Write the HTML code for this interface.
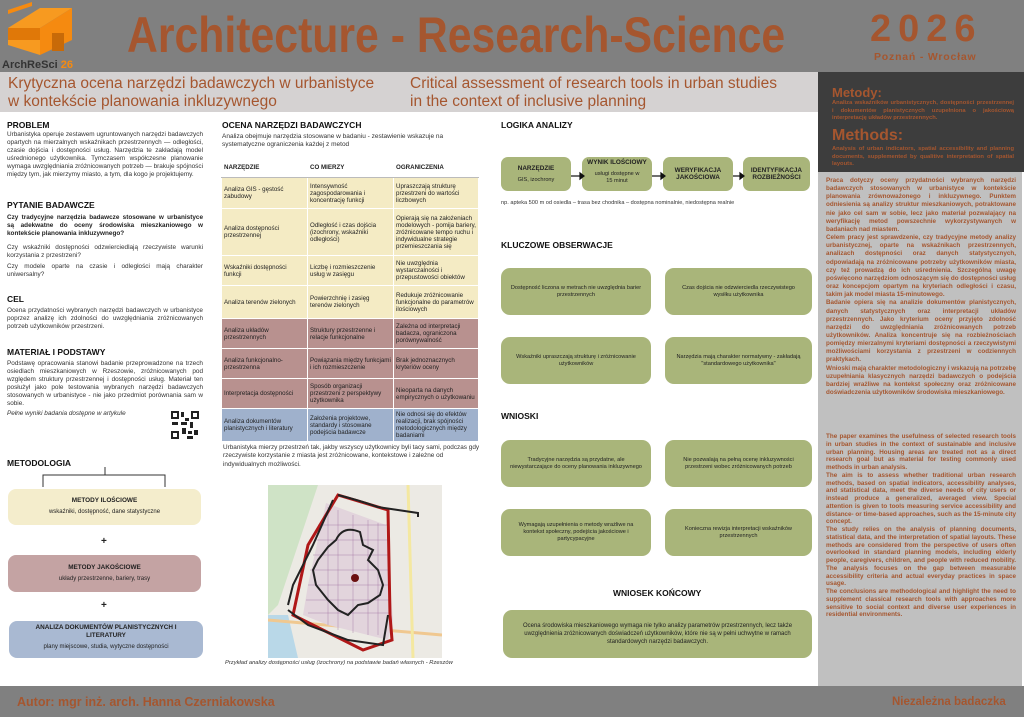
<!DOCTYPE html>
<html><head><meta charset="utf-8">
<style>
*{margin:0;padding:0;box-sizing:border-box}
body{width:1024px;height:717px;position:relative;background:#fff;font-family:"Liberation Sans",sans-serif;color:#222;overflow:hidden}
.a{position:absolute}
.rust{color:#a5562f}
h3{position:absolute;font-size:8.5px;font-weight:bold;color:#111}
.p{position:absolute;font-size:6.4px;line-height:8px;text-align:justify;color:#333}
.gb{position:absolute;background:#a9b57a;border-radius:9px;display:flex;align-items:center;justify-content:center;text-align:center;font-size:5.6px;line-height:7px;color:#222;padding:0 8px}
table{border-collapse:collapse;font-size:6.2px;line-height:7px;color:#222}
td{border:1px solid #fff;padding:0 2px;vertical-align:middle}
.y td{background:#f4ebc4}.m td{background:#b8918f}.b td{background:#9fb1cc}
.rp{position:absolute;font-size:6.3px;line-height:8.15px;font-weight:bold;text-align:justify;color:#a5562f}
</style></head><body>
<div class="a" style="left:0;top:0;width:1024px;height:72px;background:#808080"></div>
<svg class="a" style="left:0;top:0" width="80" height="65" viewBox="0 0 80 65">
<polygon points="8,10 32,2 32,6 8,14" fill="#f58a10"/>
<polygon points="8,28 40,8 72,8 40,28" fill="#f79a20"/>
<polygon points="8,28 40,28 40,40 8,40" fill="#e07808"/>
<polygon points="40,28 72,8 72,40 40,55" fill="#f58a10"/>
<polygon points="8,40 40,40 40,55 8,45" fill="#f79a20"/>
<rect x="52" y="33" width="12" height="18" fill="#c86a08"/>
</svg>
<div class="a" style="left:2px;top:59px;font-size:11px;font-weight:bold;color:#333">ArchReSci <span style="color:#f58a10">26</span></div>
<div class="a rust" style="left:127px;top:6px;font-size:50px;font-weight:bold;transform:scaleX(0.855);transform-origin:0 0;white-space:nowrap">Architecture - Research-Science</div>
<div class="a rust" style="left:870px;top:8px;font-size:38px;font-weight:bold;letter-spacing:7px">2026</div>
<div class="a rust" style="left:874px;top:51px;font-size:10.5px;font-weight:bold;letter-spacing:0.8px">Poznań - Wrocław</div>
<div class="a" style="left:0;top:72px;width:835px;height:40px;background:#d5d2d2"></div>
<div class="a rust" style="left:8px;top:75px;font-size:15.5px;line-height:18px">Krytyczna ocena narzędzi badawczych w urbanistyce<br>w kontekście planowania inkluzywnego</div>
<div class="a rust" style="left:410px;top:75px;font-size:15.5px;line-height:18px">Critical assessment of research tools in urban studies<br>in the context of inclusive planning</div>
<div class="a" style="left:818px;top:72px;width:206px;height:100px;background:#3d3d3d"></div>
<div class="a" style="left:818px;top:172px;width:204px;height:516px;background:#c0c0c0"></div>
<div class="a rust" style="left:832px;top:85px;font-size:13px;font-weight:bold">Metody:</div>
<div class="rp" style="left:832px;top:100px;width:182px;font-size:5.8px;line-height:7.5px">Analiza wskaźników urbanistycznych, dostępności przestrzennej i dokumentów planistycznych uzupełniona o jakościową interpretację układów przestrzennych.</div>
<div class="a rust" style="left:832px;top:127px;font-size:16px;font-weight:bold">Methods:</div>
<div class="rp" style="left:832px;top:146px;width:182px;font-size:5.8px;line-height:7.5px">Analysis of urban indicators, spatial accessibility and planning documents, supplemented by qualitive interpretation of spatial layouts.</div>
<div class="rp" style="left:826px;top:177px;width:190px">Praca dotyczy oceny przydatności wybranych narzędzi badawczych stosowanych w urbanistyce w kontekście planowania zrównoważonego i inkluzywnego. Punktem odniesienia są analizy struktur mieszkaniowych, potraktowane nie jako cel sam w sobie, lecz jako materiał pozwalający na weryfikację metod powszechnie wykorzystywanych w badaniach nad miastem.<br>Celem pracy jest sprawdzenie, czy tradycyjne metody analizy urbanistycznej, oparte na wskaźnikach przestrzennych, analizach dostępności oraz danych statystycznych, odpowiadają na zróżnicowane potrzeby użytkowników miasta, czy też prowadzą do ich uśrednienia. Szczególną uwagę poświęcono narzędziom odnoszącym się do dostępności usług oraz koncepcjom opartym na kryteriach odległości i czasu, takim jak model miasta 15-minutowego.<br>Badanie opiera się na analizie dokumentów planistycznych, danych statystycznych oraz interpretacji układów przestrzennych. Jako kryterium oceny przyjęto zdolność narzędzi do uwzględniania zróżnicowanych potrzeb użytkowników. Analiza koncentruje się na rozbieżnościach pomiędzy mierzalnymi kryteriami dostępności a rzeczywistymi możliwościami korzystania z przestrzeni w codziennych praktykach.<br>Wnioski mają charakter metodologiczny i wskazują na potrzebę uzupełniania klasycznych narzędzi badawczych o podejścia bardziej wrażliwe na kontekst społeczny oraz zróżnicowane doświadczenia użytkowników środowiska mieszkaniowego.</div>
<div class="rp" style="left:826px;top:433px;width:190px;line-height:7.75px">The paper examines the usefulness of selected research tools in urban studies in the context of sustainable and inclusive urban planning. Housing areas are treated not as a direct research goal but as material for testing commonly used methods in urban analysis.<br>The aim is to assess whether traditional urban research methods, based on spatial indicators, accessibility analyses, and statistical data, meet the diverse needs of city users or instead produce a generalized, averaged view. Special attention is given to tools measuring service accessibility and distance- or time-based approaches, such as the 15-minute city concept.<br>The study relies on the analysis of planning documents, statistical data, and the interpretation of spatial layouts. These methods are considered from the perspective of users often overlooked in standard planning models, including elderly people, caregivers, children, and people with reduced mobility. The analysis focuses on the gap between measurable accessibility criteria and actual everyday practices in space usage.<br>The conclusions are methodological and highlight the need to supplement classical research tools with approaches more sensitive to social context and diverse user experiences in residential environments.</div>

<!-- left column -->
<h3 style="left:7px;top:120px">PROBLEM</h3>
<div class="p" style="left:7px;top:131px;width:196px">Urbanistyka operuje zestawem ugruntowanych narzędzi badawczych opartych na mierzalnych wskaźnikach przestrzennych — odległości, czasie dojścia i dostępności usług. Narzędzia te zakładają model uśrednionego użytkownika. Tymczasem współczesne planowanie wymaga uwzględniania zróżnicowanych potrzeb — brakuje spójności między tym, jak mierzymy miasto, a tym, dla kogo je projektujemy.</div>
<h3 style="left:7px;top:200px">PYTANIE BADAWCZE</h3>
<div class="p" style="left:7px;top:214px;width:196px;font-weight:bold;color:#222">Czy tradycyjne narzędzia badawcze stosowane w urbanistyce są adekwatne do oceny środowiska mieszkaniowego w kontekście planowania inkluzywnego?</div>
<div class="p" style="left:7px;top:244px;width:196px">Czy wskaźniki dostępności odzwierciedlają rzeczywiste warunki korzystania z przestrzeni?</div>
<div class="p" style="left:7px;top:263px;width:196px">Czy modele oparte na czasie i odległości mają charakter uniwersalny?</div>
<h3 style="left:7px;top:294px">CEL</h3>
<div class="p" style="left:7px;top:307px;width:196px">Ocena przydatności wybranych narzędzi badawczych w urbanistyce poprzez analizę ich zdolności do uwzględniania zróżnicowanych potrzeb użytkowników przestrzeni.</div>
<h3 style="left:7px;top:347px">MATERIAŁ I PODSTAWY</h3>
<div class="p" style="left:7px;top:360px;width:196px">Podstawę opracowania stanowi badanie przeprowadzone na trzech osiedlach mieszkaniowych w Rzeszowie, zróżnicowanych pod względem struktury przestrzennej i dostępności usług. Materiał ten posłużył jako pole testowania wybranych narzędzi badawczych stosowanych w urbanistyce - nie jako przedmiot porównania sam w sobie.</div>
<div class="p" style="left:7px;top:410px;font-style:italic">Pełne wyniki badania dostępne w artykule</div>
<svg class="a" style="left:170px;top:410px" width="30" height="30"><rect width="30" height="30" fill="#fff"/><g fill="#222"><rect x="1" y="1" width="8" height="8"/><rect x="21" y="1" width="8" height="8"/><rect x="1" y="21" width="8" height="8"/><rect x="3" y="3" width="4" height="4" fill="#fff"/><rect x="23" y="3" width="4" height="4" fill="#fff"/><rect x="3" y="23" width="4" height="4" fill="#fff"/><rect x="11" y="2" width="3" height="5"/><rect x="15" y="8" width="4" height="3"/><rect x="11" y="12" width="6" height="3"/><rect x="20" y="12" width="3" height="6"/><rect x="2" y="12" width="6" height="3"/><rect x="12" y="18" width="4" height="6"/><rect x="18" y="21" width="4" height="3"/><rect x="24" y="20" width="4" height="5"/><rect x="17" y="26" width="6" height="3"/></g></svg>
<h3 style="left:7px;top:458px">METODOLOGIA</h3>
<svg class="a" style="left:40px;top:466px" width="140" height="22"><path d="M65 1 V9 M3 21 V9 H125 V21" stroke="#333" fill="none" stroke-width="1"/></svg>
<div class="a" style="left:8px;top:489px;width:193px;height:36px;background:#f4edcc;border-radius:8px;text-align:center;font-size:6px"><div style="font-weight:bold;margin-top:8px;font-size:6.4px">METODY ILOŚCIOWE</div><div style="margin-top:5px">wskaźniki, dostępność, dane statystyczne</div></div>
<div class="a" style="left:101px;top:536px;font-size:10px;font-weight:bold">+</div>
<div class="a" style="left:8px;top:555px;width:193px;height:37px;background:#c4a3a3;border-radius:8px;text-align:center;font-size:6px"><div style="font-weight:bold;margin-top:9px;font-size:6.4px">METODY JAKOŚCIOWE</div><div style="margin-top:5px">układy przestrzenne, bariery, trasy</div></div>
<div class="a" style="left:101px;top:600px;font-size:10px;font-weight:bold">+</div>
<div class="a" style="left:9px;top:621px;width:194px;height:37px;background:#a9b9d2;border-radius:8px;text-align:center;font-size:6px"><div style="font-weight:bold;margin-top:3px;font-size:6.4px;line-height:8px">ANALIZA DOKUMENTÓW PLANISTYCZNYCH I<br>LITERATURY</div><div style="margin-top:4px">plany miejscowe, studia, wytyczne dostępności</div></div>

<!-- middle -->
<h3 style="left:222px;top:120px">OCENA NARZĘDZI BADAWCZYCH</h3>
<div class="p" style="left:222px;top:133px;width:262px;font-size:6.5px;text-align:left">Analiza obejmuje narzędzia stosowane w badaniu - zestawienie wskazuje na systematyczne ograniczenia każdej z metod</div>
<table class="a" style="left:221px;top:157px;width:258px">
<tr style="height:20px"><td style="width:86px;font-weight:bold;border-bottom:1px solid #bbb">NARZĘDZIE</td><td style="width:86px;font-weight:bold;border-bottom:1px solid #bbb">CO MIERZY</td><td style="font-weight:bold;border-bottom:1px solid #bbb">OGRANICZENIA</td></tr>
<tr class="y" style="height:31px"><td>Analiza GIS - gęstość zabudowy</td><td>Intensywność zagospodarowania i koncentrację funkcji</td><td>Upraszczają strukturę przestrzeni do wartości liczbowych</td></tr>
<tr class="y" style="height:47px"><td>Analiza dostępności przestrzennej</td><td>Odległość i czas dojścia (izochrony, wskaźniki odległości)</td><td>Opierają się na założeniach modelowych - pomija bariery, zróżnicowane tempo ruchu i indywidualne strategie przemieszczania się</td></tr>
<tr class="y" style="height:30px"><td>Wskaźniki dostępności funkcji</td><td>Liczbę i rozmieszczenie usług w zasięgu</td><td>Nie uwzględnia wystarczalności i przepustowości obiektów</td></tr>
<tr class="y" style="height:33px"><td>Analiza terenów zielonych</td><td>Powierzchnię i zasięg terenów zielonych</td><td>Redukuje zróżnicowanie funkcjonalne do parametrów ilościowych</td></tr>
<tr class="m" style="height:30px"><td>Analiza układów przestrzennych</td><td>Struktury przestrzenne i relacje funkcjonalne</td><td>Zależna od interpretacji badacza, ograniczona porównywalność</td></tr>
<tr class="m" style="height:30px"><td>Analiza funkcjonalno-przestrzenna</td><td>Powiązania między funkcjami i ich rozmieszczenie</td><td>Brak jednoznacznych kryteriów oceny</td></tr>
<tr class="m" style="height:30px"><td>Interpretacja dostępności</td><td>Sposób organizacji przestrzeni z perspektywy użytkownika</td><td>Nieoparta na danych empirycznych o użytkowaniu</td></tr>
<tr class="b" style="height:33px"><td>Analiza dokumentów planistycznych i literatury</td><td>Założenia projektowe, standardy i stosowane podejścia badawcze</td><td>Nie odnosi się do efektów realizacji, brak spójności metodologicznych między badaniami</td></tr>
</table>
<div class="p" style="left:223px;top:444px;width:262px;font-size:6.4px;line-height:8.3px;text-align:left">Urbanistyka mierzy przestrzeń tak, jakby wszyscy użytkownicy byli tacy sami, podczas gdy rzeczywiste korzystanie z miasta jest zróżnicowane, kontekstowe i zależne od indywidualnych możliwości.</div>
<svg class="a" style="left:268px;top:485px" width="174" height="173" viewBox="0 0 174 173">
<rect width="174" height="173" fill="#eceae4"/>
<path d="M0 0 L50 0 L30 60 L10 120 L0 130Z" fill="#cfe3c6"/>
<path d="M0 130 L20 130 L30 173 L0 173Z" fill="#b9d8e8"/>
<path d="M0 135 L174 150" stroke="#f0c890" stroke-width="3"/>
<path d="M140 0 L145 173" stroke="#f4e8a0" stroke-width="3"/>
<path d="M58 18 L118 40 L120 75 L125 135 L120 155 L60 140 L35 130 L40 100 Z" fill="#e2d4dc"/>
<g stroke="#a06ea0" stroke-width="0.5" fill="none" opacity="0.8">
<path d="M50 40 H120 M48 55 H120 M45 70 H122 M42 85 H122 M40 100 H122 M38 115 H123 M40 128 H123 M70 25 V145 M85 30 V148 M100 35 V150 M60 22 V140 M110 38 V150"/></g>
<path d="M70 10 L120 25 L122 130 L124 155 L95 165 L25 130 L40 60 Z" fill="none" stroke="#b01818" stroke-width="3"/>
<path d="M70 10 Q90 15 110 22 L150 28 L150 32 M65 15 L45 60 L25 100 L20 120 M20 125 L40 140 L80 155 L115 160 L120 130 M92 47 Q75 40 68 55 L60 62 L50 75 L45 85 L48 100 L60 115 L70 125 L80 130 L90 120 L100 118 L112 110 L115 100 L110 85 L100 75 L105 65 L95 60 Z" fill="none" stroke="#222" stroke-width="2"/>
<circle cx="87" cy="93" r="4" fill="#6b1010"/>
</svg>
<div class="a" style="left:225px;top:660px;font-size:5.8px;font-style:italic;color:#333">Przykład analizy dostępności usług (izochrony) na podstawie badań własnych - Rzeszów</div>

<!-- right middle -->
<h3 style="left:501px;top:120px">LOGIKA ANALIZY</h3>
<div class="gb" style="left:501px;top:157px;width:70px;height:34px;flex-direction:column;border-radius:7px"><b style="font-size:6.4px">NARZĘDZIE</b><span style="margin-top:5px">GIS, izochrony</span></div>
<div class="gb" style="left:582px;top:157px;width:70px;height:34px;flex-direction:column;justify-content:flex-start;border-radius:7px;padding:0"><b style="font-size:6.4px;margin-top:2px">WYNIK ILOŚCIOWY</b><span style="margin-top:5px">usługi dostępne w<br>15 minut</span></div>
<div class="gb" style="left:663px;top:157px;width:70px;height:34px;border-radius:7px;font-weight:bold;font-size:6.4px;padding:0">WERYFIKACJA<br>JAKOŚCIOWA</div>
<div class="gb" style="left:743px;top:157px;width:67px;height:34px;border-radius:7px;font-weight:bold;font-size:6.4px;padding:0">IDENTYFIKACJA<br>ROZBIEŻNOŚCI</div>
<svg class="a" style="left:570px;top:170px" width="175" height="12"><g stroke="#111" stroke-width="1.2" fill="#111"><path d="M1 6 H10"/><path d="M10 3 L14 6 L10 9Z"/><path d="M82 6 H91"/><path d="M91 3 L95 6 L91 9Z"/><path d="M163 6 H170"/><path d="M170 3 L174 6 L170 9Z"/></g></svg>
<div class="a" style="left:501px;top:200px;font-size:5.6px;color:#333">np. apteka 500 m od osiedla – trasa bez chodnika – dostępna nominalnie, niedostępna realnie</div>
<h3 style="left:501px;top:240px">KLUCZOWE OBSERWACJE</h3>
<div class="gb" style="left:501px;top:268px;width:150px;height:47px">Dostępność liczona w metrach nie uwzględnia barier przestrzennych</div>
<div class="gb" style="left:665px;top:268px;width:147px;height:47px">Czas dojścia nie odzwierciedla rzeczywistego wysiłku użytkownika</div>
<div class="gb" style="left:501px;top:337px;width:150px;height:47px">Wskaźniki upraszczają strukturę i zróżnicowanie użytkowników</div>
<div class="gb" style="left:665px;top:337px;width:147px;height:47px">Narzędzia mają charakter normatywny - zakładają "standardowego użytkownika"</div>
<h3 style="left:501px;top:411px">WNIOSKI</h3>
<div class="gb" style="left:501px;top:440px;width:150px;height:47px">Tradycyjne narzędzia są przydatne, ale niewystarczające do oceny planowania inkluzywnego</div>
<div class="gb" style="left:665px;top:440px;width:147px;height:47px">Nie pozwalają na pełną ocenę inkluzywności przestrzeni wobec zróżnicowanych potrzeb</div>
<div class="gb" style="left:501px;top:509px;width:150px;height:47px">Wymagają uzupełnienia o metody wrażliwe na kontekst społeczny, podejścia jakościowe i partycypacyjne</div>
<div class="gb" style="left:665px;top:509px;width:147px;height:47px">Konieczna rewizja interpretacji wskaźników przestrzennych</div>
<h3 style="left:613px;top:588px">WNIOSEK KOŃCOWY</h3>
<div class="gb" style="left:503px;top:610px;width:309px;height:48px;font-size:6px;line-height:8px">Ocena środowiska mieszkaniowego wymaga nie tylko analizy parametrów przestrzennych, lecz także uwzględnienia zróżnicowanych doświadczeń użytkowników, które nie są w pełni uchwytne w ramach standardowych narzędzi badawczych.</div>

<div class="a" style="left:0;top:686px;width:1024px;height:31px;background:#808080"></div>
<div class="a rust" style="left:17px;top:695px;font-size:12.5px;font-weight:bold">Autor: mgr inż. arch. Hanna Czerniakowska</div>
<div class="a rust" style="left:892px;top:696px;font-size:11.5px;font-weight:bold">Niezależna badaczka</div>
</body></html>
